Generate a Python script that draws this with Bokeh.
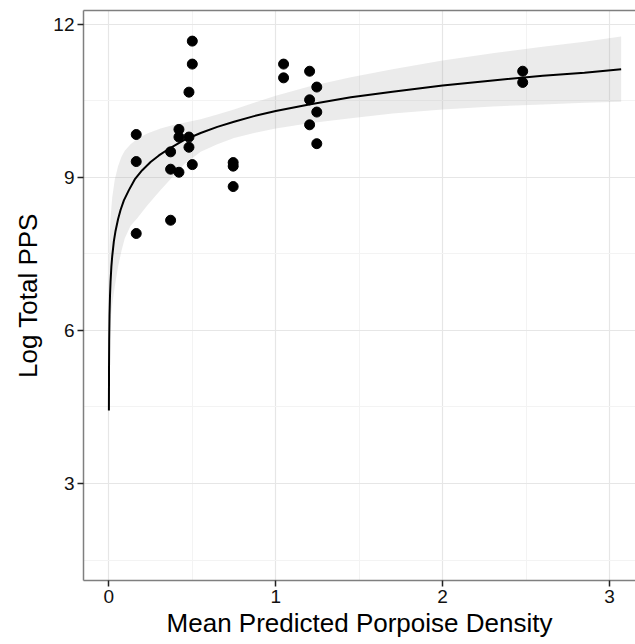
from bokeh.plotting import figure
from bokeh.models import Range1d, FixedTicker, LinearAxis, ColumnDataSource
from bokeh.embed import file_html
from bokeh.resources import INLINE

# observed points
pt_x = [0.164, 0.164, 0.164, 0.370, 0.370, 0.370, 0.420, 0.420, 0.420,
        0.480, 0.480, 0.480, 0.500, 0.500, 0.500, 0.745, 0.745, 0.745,
        1.047, 1.047, 1.203, 1.246, 1.203, 1.246, 1.203, 1.246, 2.480, 2.480]
pt_y = [9.84, 9.31, 7.90, 9.50, 9.16, 8.16, 9.94, 9.79, 9.10,
        10.67, 9.79, 9.59, 11.67, 11.22, 9.25, 9.29, 9.22, 8.82,
        11.22, 10.95, 11.08, 10.77, 10.52, 10.28, 10.03, 9.66, 11.08, 10.86]

# fitted curve
fit_x = [0.0003, 0.001, 0.002, 0.004, 0.007, 0.01, 0.015, 0.02, 0.03, 0.04, 0.055,
         0.07, 0.09, 0.12, 0.155, 0.2, 0.25, 0.3, 0.37, 0.45, 0.55, 0.65, 0.75,
         0.87, 1.0, 1.2, 1.45, 1.7, 2.0, 2.3, 2.6, 2.85, 3.07]
fit_y = [4.43, 5.3, 5.8, 6.3, 6.7, 6.95, 7.25, 7.45, 7.75, 7.95, 8.18,
         8.36, 8.55, 8.75, 8.96, 9.14, 9.30, 9.43, 9.58, 9.73, 9.87, 9.99, 10.09,
         10.20, 10.30, 10.43, 10.57, 10.68, 10.80, 10.90, 10.99, 11.05, 11.12]

# confidence band
band_x = [0.0003, 0.001, 0.003, 0.006, 0.01, 0.02, 0.035, 0.055, 0.075, 0.095,
          0.13, 0.17, 0.23, 0.31, 0.38, 0.45, 0.55, 0.65, 0.75, 0.87, 1.0,
          1.2, 1.45, 1.7, 2.0, 2.3, 2.6, 2.85, 3.07]
band_hi = [6.2, 7.0, 7.6, 7.95, 8.2, 8.6, 8.95, 9.22, 9.4, 9.52,
           9.65, 9.75, 9.86, 9.96, 10.02, 10.07, 10.14, 10.23, 10.33, 10.46, 10.6,
           10.78, 10.96, 11.12, 11.29, 11.43, 11.56, 11.66, 11.76]
band_lo = [4.3, 4.9, 5.6, 5.95, 6.2, 6.5, 6.85, 7.25, 7.55, 7.8,
           8.05, 8.2, 8.45, 8.75, 9.0, 9.25, 9.5, 9.65, 9.77, 9.87, 9.96,
           10.06, 10.16, 10.25, 10.33, 10.39, 10.43, 10.46, 10.48]

x_ticks = [0, 1, 2, 3]
x_minor = [0.5, 1.5, 2.5]
y_ticks = [3, 6, 9, 12]
y_minor = [1.5, 4.5, 7.5, 10.5]

FONT = "Liberation Sans"
BORDER = "#7f7f7f"

p = figure(width=635, height=644, output_backend="svg", toolbar_location=None,
           x_range=Range1d(-0.152, 3.156), y_range=Range1d(1.1, 12.27),
           min_border_left=83, min_border_right=0, min_border_top=10,
           min_border_bottom=64)
p.outline_line_color = None
p.background_fill_color = "white"

xt = FixedTicker(ticks=x_ticks, minor_ticks=x_minor)
yt = FixedTicker(ticks=y_ticks, minor_ticks=y_minor)
p.xaxis.ticker = xt
p.yaxis.ticker = yt
p.xgrid.ticker = xt
p.ygrid.ticker = yt
for g in (p.xgrid, p.ygrid):
    g.grid_line_color = "#e6e6e6"
    g.grid_line_width = 1.2
    g.minor_grid_line_color = "#f3f3f3"
    g.minor_grid_line_width = 1

for ax in (p.xaxis, p.yaxis):
    ax.axis_line_color = BORDER
    ax.axis_line_width = 1.5
    ax.major_tick_line_color = "#222222"
    ax.major_tick_line_width = 1.5
    ax.major_tick_in = 0
    ax.major_tick_out = 6
    ax.minor_tick_line_color = None
    ax.major_label_text_font = FONT
    ax.major_label_text_font_size = "19px"
    ax.major_label_text_color = "#111111"
    ax.axis_label_text_font = FONT
    ax.axis_label_text_font_style = "normal"
    ax.axis_label_text_color = "black"
    ax.axis_label_text_font_size = "26px"

p.xaxis.axis_label = "Mean Predicted Porpoise Density"
p.yaxis.axis_label = "Log Total PPS"
p.xaxis.major_label_standoff = 3
p.yaxis.major_label_standoff = 3
p.xaxis.axis_label_standoff = 2
p.yaxis.axis_label_standoff = 7

top = LinearAxis(ticker=FixedTicker(ticks=[]), axis_line_color=BORDER,
                 axis_line_width=1.5, major_tick_out=0, major_tick_in=0,
                 minor_tick_out=0, minor_tick_in=0, major_label_text_font_size="0px")
p.add_layout(top, "above")

src_band = ColumnDataSource(dict(x=band_x, lo=band_lo, hi=band_hi))
p.varea(x="x", y1="lo", y2="hi", source=src_band, fill_color="#999999", fill_alpha=0.2)

src_fit = ColumnDataSource(dict(x=fit_x, y=fit_y))
p.line(x="x", y="y", source=src_fit, line_color="black", line_width=2)

src_pts = ColumnDataSource(dict(x=pt_x, y=pt_y))
p.scatter(x="x", y="y", source=src_pts, size=10, fill_color="black", line_color="black")

open("out.html", "w").write(file_html(p, INLINE))
